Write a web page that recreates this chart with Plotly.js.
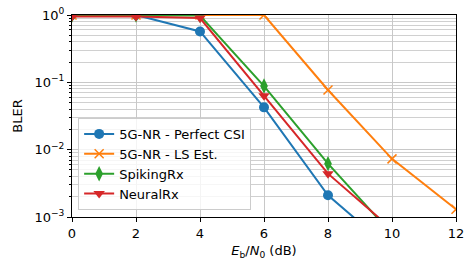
<!DOCTYPE html>
<html><head><meta charset="utf-8">
<script src="https://cdn.plot.ly/plotly-3.0.1.min.js"></script>
<style>html,body{margin:0;padding:0;background:#fff}#c{width:475px;height:270px}</style>
</head><body><div id="c"></div>
<script>
const snr = [0, 2, 4, 6, 8, 10, 12];
const perfectCSI = [1.0, 1.0, 0.57, 0.0425, 0.0021, 0.00032];
const lsEst = [1.0, 1.0, 1.0, 1.0, 0.077, 0.0073, 0.0013];
const spikingRx = [1.0, 1.0, 0.98, 0.088, 0.0062, 0.00056];
const neuralRx = [0.95, 0.95, 0.9, 0.063, 0.0044, 0.00066];
const names = ['5G-NR - Perfect CSI', '5G-NR - LS Est.', 'SpikingRx', 'NeuralRx'];
const colors = ['#1f77b4', '#ff7f0e', '#2ca02c', '#d62728'];
const symbols = ['circle', 'x-thin', 'diamond-tall', 'triangle-down'];
const xTicks = [0, 2, 4, 6, 8, 10, 12];
const yTicks = [0.001, 0.01, 0.1, 1];
const yTickText = ['10<sup>−3</sup>', '10<sup>−2</sup>', '10<sup>−1</sup>', '10<sup>0</sup>'];

const series = [perfectCSI, lsEst, spikingRx, neuralRx];
const minorVals = [];
[0.001, 0.01, 0.1].forEach(d => { for (let k = 2; k <= 9; k++) minorVals.push(d * k); });

const traces = series.map((ys, i) => ({
  x: snr.slice(0, ys.length), y: ys, name: names[i], type: 'scatter', mode: 'lines+markers',
  line: {color: colors[i], width: 2},
  marker: {color: colors[i], symbol: symbols[i], size: i === 1 ? 9 : (i === 2 ? 11 : 10),
           line: {color: colors[i], width: i === 1 ? 1.5 : 0}}
}));

const layout = {
  width: 475, height: 270,
  margin: {l: 72, r: 19, t: 15, b: 53},
  paper_bgcolor: '#fff', plot_bgcolor: '#fff',
  font: {family: 'DejaVu Sans', size: 13, color: '#000'},
  showlegend: true,
  legend: {x: 0.016, y: 0.035, xanchor: 'left', yanchor: 'bottom',
           bgcolor: 'rgba(255,255,255,0.8)', bordercolor: '#cccccc', borderwidth: 1,
           font: {size: 13}, tracegroupgap: 0},
  xaxis: {range: [0, 12], tickvals: xTicks, ticktext: xTicks.map(String),
          showgrid: true, gridcolor: '#c8c8c8', gridwidth: 1,
          ticks: 'outside', ticklen: 4, tickcolor: '#000', showline: true, linecolor: '#000', linewidth: 1,
          mirror: true, zeroline: false,
          title: {text: '<i>E</i><sub>b</sub>/<i>N</i><sub>0</sub> (dB)', font: {size: 13}, standoff: 6}},
  yaxis: {type: 'log', range: [-3, 0], tickvals: yTicks, ticktext: yTickText,
          showgrid: true, gridcolor: '#c8c8c8', gridwidth: 1,
          ticks: 'outside', ticklen: 4, tickcolor: '#000', showline: true, linecolor: '#000', linewidth: 1,
          mirror: true, zeroline: false,
          minor: {tickvals: minorVals, showgrid: true, gridcolor: '#d0d0d0', gridwidth: 1, ticks: 'outside', ticklen: 2, tickcolor: '#000'},
          title: {text: 'BLER', font: {size: 13}, standoff: 8}}
};
Plotly.newPlot('c', traces, layout, {displayModeBar: false, staticPlot: true});
</script></body></html>
